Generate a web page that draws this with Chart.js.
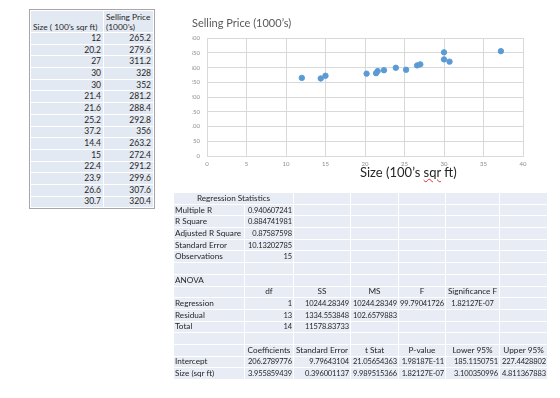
<!DOCTYPE html>
<html>
<head>
    <title>Selling Price vs Size</title>
    <script src="https://cdn.jsdelivr.net/npm/chart.js"></script>
    <style>
        body {
            margin: 0;
            width: 560px;
            height: 398px;
            background: white;
            font-family: Lato, 'Open Sans', sans-serif;
            color: #262626;
            position: relative;
            overflow: hidden;
        }
        table {
            position: absolute;
            border-collapse: collapse;
            table-layout: fixed;
            font-size: 8.2px;
        }
        td {
            padding: 0 1px;
            white-space: nowrap;
            overflow: hidden;
            background: #e8ecf4;
            border: 1px solid white;
            line-height: 9px;
            height: 10.7px;
        }
        td.n { font-size: 7.5px; letter-spacing: -0.12px; }
        #dataTable {
            left: 30px;
            top: 10px;
            width: 123px;
            outline: 1px solid #a6a6a6;
            font-size: 8.4px;
        }
        #dataTable td { text-align: right; background: #e3e9f2; padding: 0 2px; }
        #dataTable td.n { font-size: 8.5px; letter-spacing: 0; }
        #dataTable tr.head td { height: 21px; vertical-align: bottom; text-align: left; line-height: 10px; }
        #statsTable { left: 173px; top: 192px; width: 374px; }
        #statsTable td { text-align: right; }
        #statsTable td.l { text-align: left; }
        #statsTable td.c { text-align: center; }
        .spell { text-decoration: underline wavy #e03030; text-decoration-thickness: 1px; }
        #chartBox { position: absolute; left: 160px; top: 6px; width: 390px; height: 162px; }
        #xTitle { position: absolute; left: 360px; top: 164px; font-size: 13px; color: #262626; white-space: nowrap; }
    </style>
</head>
<body>
    <table id="dataTable"></table>
    <div id="chartBox"><canvas id="scatter"></canvas></div>
    <div id="xTitle">Size (100’s <span class="spell">sqr</span> ft)</div>
    <table id="statsTable"></table>

    <script>
        // source data
        const sizes = [12, 20.2, 27, 30, 30, 21.4, 21.6, 25.2, 37.2, 14.4, 15, 22.4, 23.9, 26.6, 30.7];
        const prices = [265.2, 279.6, 311.2, 328, 352, 281.2, 288.4, 292.8, 356, 263.2, 272.4, 291.2, 299.6, 307.6, 320.4];

        // regression output
        const regStatLabels = ['Multiple R', 'R Square', 'Adjusted R Square', 'Standard Error', 'Observations'];
        const regStatValues = ['0.940607241', '0.884741981', '0.87587598', '10.13202785', '15'];
        const anovaHeaders = ['', 'df', 'SS', 'MS', 'F', 'Significance F', ''];
        const anovaRows = [
            ['Regression', '1', '10244.28349', '10244.28349', '99.79041726', '1.82127E-07', ''],
            ['Residual', '13', '1334.553848', '102.6579883', '', '', ''],
            ['Total', '14', '11578.83733', '', '', '', '']
        ];
        const coefHeaders = ['', 'Coefficients', 'Standard Error', 't Stat', 'P-value', 'Lower 95%', 'Upper 95%'];
        const coefRows = [
            ['Intercept', '206.2789776', '9.79643104', '21.05654363', '1.98187E-11', '185.1150751', '227.4428802'],
            ['Size (sqr ft)', '3.955859439', '0.396001137', '9.989515366', '1.82127E-07', '3.100350996', '4.811367883']
        ];

        const num = v => '<td class="n">' + v + '</td>';

        // left data table
        let html = '<colgroup><col style="width:73px"><col style="width:50px"></colgroup>';
        html += '<tr class="head"><td>Size ( 100’s <span class="spell">sqr</span> ft)</td><td>Selling Price<br>(1000’s)</td></tr>';
        sizes.forEach((s, i) => {
            html += '<tr>' + num(s) + num(prices[i]) + '</tr>';
        });
        document.getElementById('dataTable').innerHTML = html;

        // regression table
        const colW = [71, 49, 57, 48, 47, 54, 48];
        const blank = n => '<td></td>'.repeat(n);
        let st = '<colgroup>' + colW.map(w => '<col style="width:' + w + 'px">').join('') + '</colgroup>';
        st += '<tr><td class="c" colspan="2">Regression Statistics</td>' + blank(5) + '</tr>';
        regStatLabels.forEach((lab, i) => {
            st += '<tr><td class="l">' + lab + '</td>' + num(regStatValues[i]) + blank(5) + '</tr>';
        });
        st += '<tr>' + blank(7) + '</tr>';
        st += '<tr><td class="l">ANOVA</td>' + blank(6) + '</tr>';
        st += '<tr>' + anovaHeaders.map(h => '<td class="c">' + h + '</td>').join('') + '</tr>';
        anovaRows.forEach(r => {
            st += '<tr>' + r.map((v, j) => j == 0 ? '<td class="l">' + v + '</td>'
                : (j == 5 ? '<td class="n c">' + v + '</td>' : num(v))).join('') + '</tr>';
        });
        st += '<tr>' + blank(7) + '</tr>';
        st += '<tr>' + coefHeaders.map(h => '<td class="c">' + h + '</td>').join('') + '</tr>';
        coefRows.forEach(r => {
            st += '<tr>' + r.map((v, j) => j == 0 ? '<td class="l">' + v + '</td>' : num(v)).join('') + '</tr>';
        });
        document.getElementById('statsTable').innerHTML = st;

        // scatter chart
        var ctx = document.getElementById('scatter').getContext('2d');
        new Chart(ctx, {
            type: 'scatter',
            data: {
                datasets: [{
                    data: sizes.map((s, i) => ({ x: s, y: prices[i] })),
                    backgroundColor: '#5b9bd5',
                    borderColor: '#5b9bd5',
                    pointRadius: 2.7,
                    pointHoverRadius: 2.7
                }]
            },
            options: {
                animation: false,
                responsive: true,
                maintainAspectRatio: false,
                layout: { padding: { left: 32, right: 27, top: 0, bottom: 0 } },
                plugins: {
                    legend: { display: false },
                    tooltip: { enabled: false },
                    title: {
                        display: true,
                        text: 'Selling Price (1000’s)',
                        align: 'start',
                        color: '#595959',
                        font: { family: 'Lato', size: 11, weight: 'normal' },
                        padding: { top: 11, bottom: 8 }
                    }
                },
                scales: {
                    x: {
                        type: 'linear',
                        min: 0,
                        max: 40,
                        ticks: { stepSize: 5, color: '#8c8c8c', font: { family: 'Lato', size: 6 }, padding: 4 },
                        grid: { color: '#d9d9d9', drawTicks: false },
                        border: { color: '#d9d9d9' },
                        afterFit: s => { s.height = 12; }
                    },
                    y: {
                        min: 0,
                        max: 400,
                        ticks: { stepSize: 50, color: '#8c8c8c', font: { family: 'Lato', size: 6 }, padding: 7 },
                        grid: { color: '#d9d9d9', drawTicks: false },
                        border: { display: false },
                        afterFit: s => { s.width = 15; }
                    }
                }
            }
        });
    </script>
</body>
</html>
